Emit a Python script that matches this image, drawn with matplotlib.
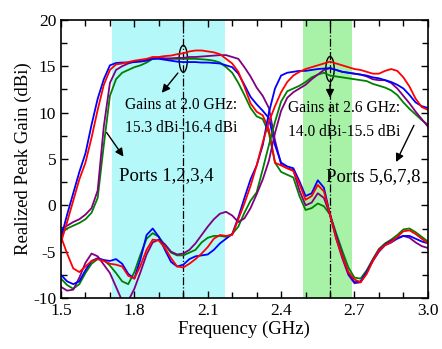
import numpy as np
import matplotlib
matplotlib.use("Agg")
import matplotlib.pyplot as plt
from matplotlib.patches import Ellipse
from matplotlib.ticker import MultipleLocator

plt.rcParams['font.family'] = ['Liberation Serif', 'DejaVu Serif']
plt.rcParams['axes.unicode_minus'] = False

freq = np.linspace(1.5, 3.0, 61)

# ports 1,2,3,4 (lower band)
a_blue = [-3.5, -1.0, 1.3, 3.6, 5.6, 8.7, 11.5, 13.6, 15.1, 15.35, 15.4, 15.4, 15.45, 15.5, 15.6, 15.8, 15.8, 15.7, 15.6, 15.5,
          15.45, 15.45, 15.45, 15.4, 15.4, 15.35, 15.3, 15.1, 14.9, 14.2, 13.0, 11.7, 10.9, 10.2, 9.4, 6.5, 4.6, 4.2, 4.0, 2.6,
          1.0, 1.3, 2.7, 1.9, -1.0, -3.3, -5.4, -7.3, -8.3, -8.2, -7.2, -6.0, -5.0, -4.3, -4.0, -3.6, -3.3, -3.3, -3.6, -3.9, -4.1]
a_red = [-4.0, -1.8, 0.5, 2.8, 4.6, 7.3, 10.3, 13.0, 14.6, 15.2, 15.3, 15.45, 15.6, 15.7, 15.8, 16.0, 16.0, 16.1, 16.15, 16.3,
         16.4, 16.6, 16.7, 16.7, 16.6, 16.5, 16.3, 15.8, 15.3, 14.4, 12.8, 11.0, 10.1, 9.7, 8.2, 4.6, 4.3, 4.0, 3.7, 2.3,
         0.6, 1.0, 2.2, 1.5, -1.0, -3.5, -5.5, -7.2, -8.0, -8.3, -7.4, -6.0, -4.9, -4.3, -4.0, -3.4, -2.8, -2.7, -3.1, -3.6, -4.1]
a_purple = [-2.5, -2.2, -1.8, -1.5, -1.0, -0.3, 1.6, 8.5, 13.2, 14.6, 15.0, 15.3, 15.5, 15.6, 15.7, 15.85, 15.9, 15.85, 15.85, 15.9,
            15.9, 16.0, 16.0, 16.05, 16.1, 16.15, 16.2, 16.2, 16.0, 15.8, 14.9, 13.9, 12.7, 11.8, 10.5, 7.0, 4.4, 4.0, 3.8, 1.6,
            0.0, 0.3, 1.3, 0.8, -1.0, -3.6, -5.7, -7.5, -8.4, -8.3, -7.2, -5.9, -4.8, -4.2, -3.8, -3.5, -3.3, -3.5, -4.0, -4.4, -4.6]
a_green = [-2.9, -2.5, -2.2, -1.9, -1.5, -0.8, 0.8, 6.5, 11.8, 13.6, 14.3, 14.6, 14.9, 15.1, 15.4, 15.8, 15.9, 15.8, 15.8, 15.8,
           15.8, 15.8, 15.8, 15.75, 15.7, 15.6, 15.4, 14.9, 14.3, 13.2, 11.9, 10.5, 9.6, 9.3, 7.8, 4.6, 3.6, 3.3, 3.0, 1.0,
           -0.5, -0.3, 0.2, -0.1, -1.0, -3.0, -4.9, -6.7, -7.8, -7.9, -7.0, -5.8, -4.7, -4.1, -3.7, -3.2, -2.6, -2.5, -2.9, -3.4, -3.9]

# ports 5,6,7,8 (upper band)
b_blue = [-7.5, -8.2, -8.5, -8.2, -7.0, -6.0, -5.7, -5.9, -6.0, -5.8, -6.3, -7.4, -7.9, -5.8, -3.2, -2.5, -3.4, -4.8, -6.1, -6.6,
          -6.4, -5.8, -5.5, -5.4, -5.3, -4.8, -4.1, -3.6, -3.1, -1.3, 0.8, 2.8, 4.3, 6.5, 10.0, 12.6, 14.0, 14.3, 14.4, 14.5,
          14.5, 14.6, 14.7, 14.75, 14.8, 14.6, 14.4, 14.3, 14.2, 14.1, 14.0, 13.8, 13.7, 13.5, 13.3, 13.0, 12.6, 11.9, 11.1, 10.7, 10.5]
b_red = [-3.4, -5.2, -6.8, -7.2, -6.6, -6.0, -5.8, -6.0, -6.3, -6.4, -6.6, -7.6, -7.9, -6.5, -4.8, -3.7, -3.8, -4.6, -5.7, -6.6,
         -6.7, -6.3, -5.8, -5.2, -4.5, -3.6, -3.2, -3.3, -3.2, -1.5, 0.2, 2.1, 4.3, 6.8, 9.0, 10.7, 12.2, 13.3, 14.0, 14.4,
         14.7, 14.9, 15.1, 15.3, 15.5, 15.3, 15.1, 14.9, 14.7, 14.6, 14.4, 14.2, 14.2, 14.5, 14.7, 14.5, 13.8, 12.8, 11.5, 10.6, 10.3]
b_purple = [-8.8, -9.2, -9.1, -7.8, -6.2, -5.2, -5.5, -6.4, -7.3, -8.8, -10.3, -10.3, -9.0, -7.2, -5.3, -4.0, -3.7, -4.2, -5.0, -5.3,
            -5.2, -4.8, -4.1, -3.2, -2.3, -1.5, -0.9, -0.7, -1.1, -1.8, -1.4, -0.3, 1.2, 2.8, 4.8, 7.8, 10.2, 11.6, 12.2, 12.6,
            13.0, 13.6, 14.1, 14.6, 14.8, 14.6, 14.4, 14.3, 14.2, 14.1, 13.9, 13.6, 13.5, 13.5, 13.2, 12.6, 11.8, 11.0, 10.1, 9.3, 8.5]
b_green = [-7.9, -8.6, -9.0, -8.5, -7.3, -6.3, -5.8, -5.9, -6.5, -7.3, -8.2, -8.5, -7.2, -5.3, -3.6, -3.0, -3.4, -4.3, -5.1, -5.4,
           -5.4, -5.1, -4.8, -4.0, -3.5, -3.3, -3.3, -3.4, -3.1, -2.3, -0.8, 0.5, 1.4, 3.9, 6.5, 9.0, 11.2, 12.3, 12.6, 12.9,
           13.3, 13.8, 14.1, 14.3, 14.0, 13.9, 13.8, 13.7, 13.6, 13.5, 13.4, 13.1, 12.9, 12.7, 12.4, 11.9, 11.1, 10.4, 9.8, 9.2, 8.7]

fig = plt.figure(figsize=(4.42, 3.49), dpi=100)
ax = fig.add_axes([0.138, 0.146, 0.830, 0.797])

ax.axvspan(1.71, 2.17, color='#b4f8fa', lw=0)
ax.axvspan(2.49, 2.69, color='#a8f2a8', lw=0)
ax.axvline(2.0, color='k', ls='-.', lw=0.9)
ax.axvline(2.6, color='k', ls='-.', lw=0.9)

lw = 1.3
for curves in [(a_green, a_purple, a_blue, a_red), (b_green, b_purple, b_blue, b_red)]:
    ax.plot(freq, curves[0], color='#008000', lw=lw)
    ax.plot(freq, curves[1], color='#800080', lw=lw)
    ax.plot(freq, curves[2], color='#0000ff', lw=lw)
    ax.plot(freq, curves[3], color='#ff0000', lw=lw)

# ellipses and notes
ax.add_patch(Ellipse((2.0, 15.8), 0.034, 2.9, fill=False, ec='k', lw=1.0))
ax.add_patch(Ellipse((2.6, 14.7), 0.034, 2.7, fill=False, ec='k', lw=1.0))
arw = dict(arrowstyle='-|>', color='k', lw=1.0, mutation_scale=12)
ax.annotate('', xy=(1.905, 11.9), xytext=(1.985, 14.5), arrowprops=arw)
ax.annotate('', xy=(2.6, 11.3), xytext=(2.6, 13.3), arrowprops=arw)
ax.annotate('', xy=(1.762, 5.0), xytext=(1.68, 8.1), arrowprops=arw)
ax.annotate('', xy=(2.865, 4.4), xytext=(2.948, 8.9), arrowprops=arw)

ax.text(1.99, 10.8, 'Gains at 2.0 GHz:', ha='center', va='center', fontsize=11.2)
ax.text(1.99, 8.3, '15.3 dBi-16.4 dBi', ha='center', va='center', fontsize=11.2)
ax.text(2.657, 10.5, 'Gains at 2.6 GHz:', ha='center', va='center', fontsize=11.2)
ax.text(2.657, 7.9, '14.0 dBi-15.5 dBi', ha='center', va='center', fontsize=11.2)
ax.text(1.932, 3.2, 'Ports 1,2,3,4', ha='center', va='center', fontsize=13.5)
ax.text(2.775, 3.1, 'Ports 5,6,7,8', ha='center', va='center', fontsize=13.5)

ax.set_xlim(1.5, 3.0)
ax.set_ylim(-10, 20)
ax.xaxis.set_major_locator(MultipleLocator(0.3))
ax.xaxis.set_minor_locator(MultipleLocator(0.1))
ax.yaxis.set_major_locator(MultipleLocator(5))
ax.yaxis.set_minor_locator(MultipleLocator(2.5))
ax.tick_params(which='both', direction='in', top=True, right=True, labelsize=12.5, width=1.0)
ax.tick_params(which='major', length=5)
ax.tick_params(which='minor', length=4)
ax.set_xticks([1.5, 1.8, 2.1, 2.4, 2.7, 3.0])
ax.set_xticklabels(['1.5', '1.8', '2.1', '2.4', '2.7', '3.0'])
for s in ax.spines.values():
    s.set_linewidth(1.2)
ax.set_xlabel('Frequency (GHz)', fontsize=13.5, labelpad=1)
ax.set_ylabel('Realized Peak Gain (dBi)', fontsize=13.5, labelpad=1)

plt.savefig('out.png', dpi=100)
